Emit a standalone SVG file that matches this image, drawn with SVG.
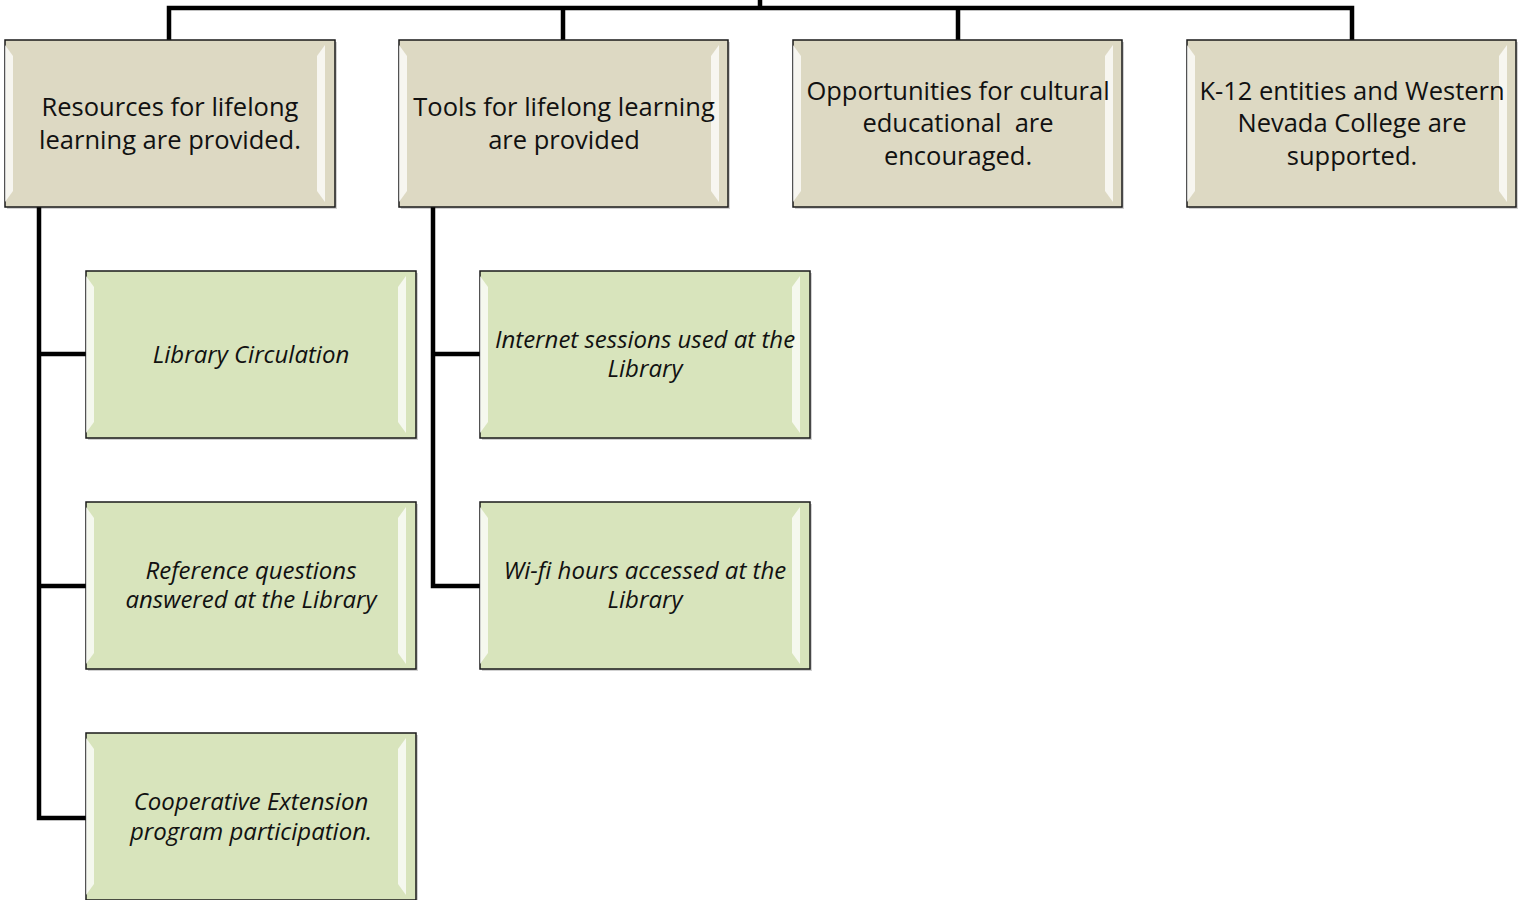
<svg xmlns="http://www.w3.org/2000/svg" width="1518" height="900" viewBox="0 0 1518 900">
<defs>
<style>
.top{fill:#ddd9c3;stroke:#1a1a1a;stroke-width:1.5}
.grn{fill:#d8e4bc;stroke:#1a1a1a;stroke-width:1.5}
.sh{fill:#000;opacity:0.18}
.hl{fill:#ffffff;opacity:0.75}
.t1{font-family:"Open Sans","Liberation Sans",sans-serif;font-size:25.5px;fill:#111;text-anchor:middle}
.t2{font-family:"Open Sans","Liberation Sans",sans-serif;font-size:24px;font-style:italic;fill:#111;text-anchor:middle}
.con{fill:none;stroke:#000;stroke-width:4.5}
</style>
<g id="bevel">
<polygon class="hl" points="5,5 13,16 13,151 5,162"/>
<polygon class="hl" points="325,5 317,16 317,151 325,162"/>
</g>
</defs>
<rect width="1518" height="900" fill="#fff"/>
<g id="connectors">
<path class="con" d="M760,0 V8 M169,40 V8 H1352 V40 M563,8 V40 M958,8 V40"/>
<path class="con" d="M39,207 V818 H86 M39,354 H86 M39,586 H86"/>
<path class="con" d="M433,207 V586 H480 M433,354 H480"/>
</g>
<g id="n1"><rect class="sh" x="7" y="42" width="330" height="167"/><rect class="top" x="5" y="40" width="330" height="167"/><use href="#bevel" x="0" y="40"/>
<text class="t1" x="170" y="116">Resources for lifelong</text><text class="t1" x="170" y="149">learning are provided.</text></g>
<g id="n2"><rect class="sh" x="401" y="42" width="329" height="167"/><rect class="top" x="399" y="40" width="329" height="167"/><use href="#bevel" x="394" y="40"/>
<text class="t1" x="564" y="116">Tools for lifelong learning</text><text class="t1" x="564" y="149">are provided</text></g>
<g id="n3"><rect class="sh" x="795" y="42" width="329" height="167"/><rect class="top" x="793" y="40" width="329" height="167"/><use href="#bevel" x="788" y="40"/>
<text class="t1" x="958" y="100">Opportunities for cultural</text><text class="t1" x="958" y="132" xml:space="preserve">educational  are</text><text class="t1" x="958" y="165">encouraged.</text></g>
<g id="n4"><rect class="sh" x="1189" y="42" width="329" height="167"/><rect class="top" x="1187" y="40" width="329" height="167"/><use href="#bevel" x="1182" y="40"/>
<text class="t1" x="1352" y="100">K-12 entities and Western</text><text class="t1" x="1352" y="132">Nevada College are</text><text class="t1" x="1352" y="165">supported.</text></g>
<g id="n5"><rect class="sh" x="88" y="273" width="330" height="167"/><rect class="grn" x="86" y="271" width="330" height="167"/><use href="#bevel" x="81" y="271"/>
<text class="t2" x="251" y="363">Library Circulation</text></g>
<g id="n6"><rect class="sh" x="88" y="504" width="330" height="167"/><rect class="grn" x="86" y="502" width="330" height="167"/><use href="#bevel" x="81" y="502"/>
<text class="t2" x="251" y="579">Reference questions</text><text class="t2" x="251" y="608">answered at the Library</text></g>
<g id="n7"><rect class="sh" x="88" y="735" width="330" height="167"/><rect class="grn" x="86" y="733" width="330" height="167"/><use href="#bevel" x="81" y="733"/>
<text class="t2" x="251" y="810">Cooperative Extension</text><text class="t2" x="251" y="840">program participation.</text></g>
<g id="n8"><rect class="sh" x="482" y="273" width="330" height="167"/><rect class="grn" x="480" y="271" width="330" height="167"/><use href="#bevel" x="475" y="271"/>
<text class="t2" x="645" y="348">Internet sessions used at the</text><text class="t2" x="645" y="377">Library</text></g>
<g id="n9"><rect class="sh" x="482" y="504" width="330" height="167"/><rect class="grn" x="480" y="502" width="330" height="167"/><use href="#bevel" x="475" y="502"/>
<text class="t2" x="645" y="579">Wi-fi hours accessed at the</text><text class="t2" x="645" y="608">Library</text></g>
</svg>
